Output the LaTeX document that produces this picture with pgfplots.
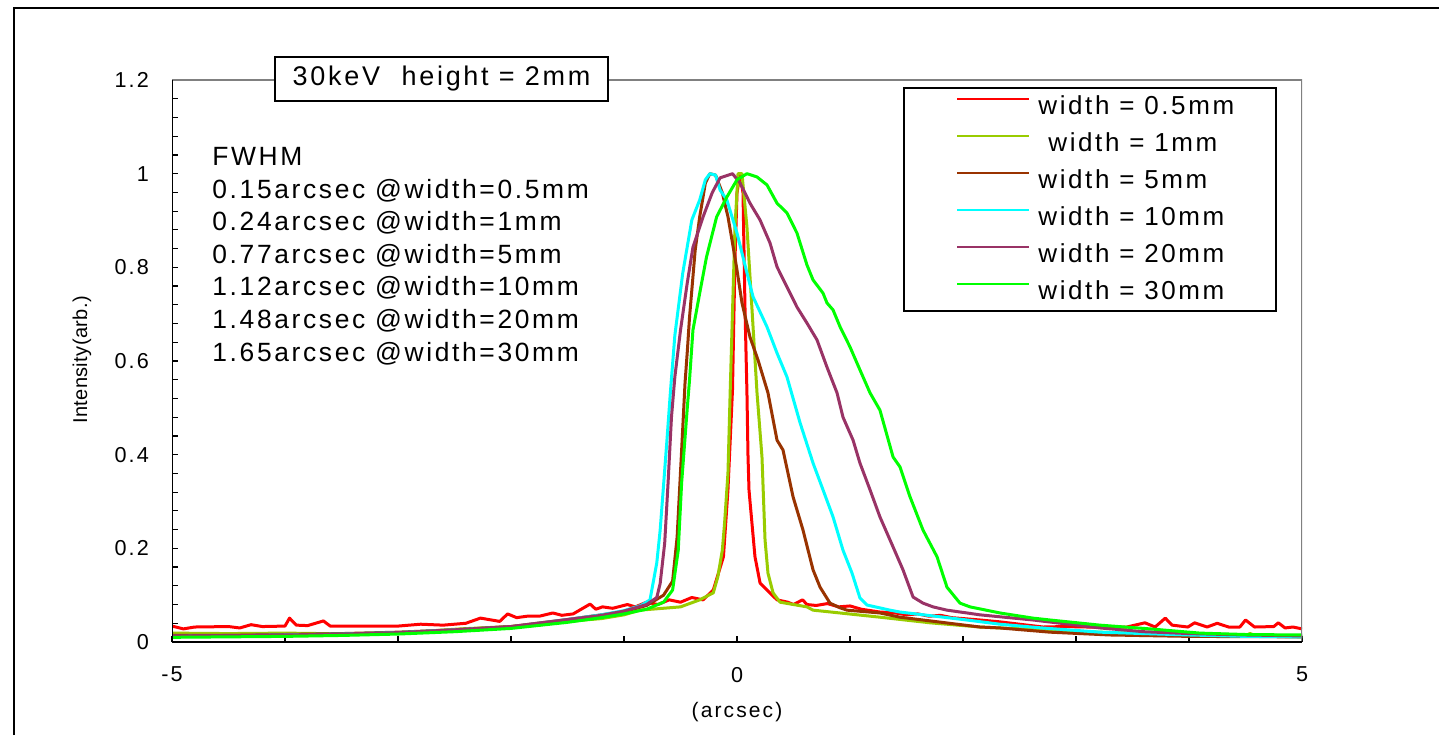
\documentclass[border=0pt]{standalone}
\usepackage{fontspec}
\setmainfont{Liberation Sans}[LetterSpace=10]
\usepackage{pgfplots}
\pgfplotsset{compat=1.18}
\definecolor{cRed}{HTML}{FF0000}
\definecolor{cYG}{HTML}{99CC00}
\definecolor{cBrown}{HTML}{993300}
\definecolor{cCyan}{HTML}{00FFFF}
\definecolor{cPurple}{HTML}{993366}
\definecolor{cGreen}{HTML}{00FF00}
\definecolor{cGray}{HTML}{808080}
\begin{document}
\begin{tikzpicture}
\useasboundingbox (0,0) rectangle (719.5pt,367.5pt);
\fill[white] (0,0) rectangle (719.5pt,367.5pt);
\draw[line width=1pt] (7pt,0pt) -- (7pt,363.5pt) -- (719.5pt,363.5pt);
\begin{axis}[
  at={(86pt,46.5pt)}, anchor=south west,
  scale only axis, width=565pt, height=281pt,
  xmin=-5, xmax=5, ymin=0, ymax=1.2,
  axis line style={draw=none},
  tick pos=left, tick align=inside,
  xtick={-5,-4,-3,-2,-1,0,1,2,3,4,5},
  xticklabels={-5,,,,,0,,,,,5},
  ytick={0,0.2,0.4,0.6,0.8,1,1.2},
  yticklabels={0,0.2,0.4,0.6,0.8,1,1.2},
  minor y tick num=4,
  major tick length=3pt, minor tick length=3pt,
  every tick/.style={black, line width=0.6pt},
  ticklabel style={font=\fontsize{10.8}{12}\selectfont},
  /pgf/number format/assume math mode=true,
  xticklabel style={yshift=-9pt},
  yticklabel style={xshift=-8pt},
  legend style={at={(rel axis cs:0.647,0.9875)}, anchor=north west,
    draw=black, line width=0.8pt, fill=white,
    font=\fontsize{13}{14}\selectfont,
    inner xsep=21pt, inner ysep=4pt, row sep=7.3pt, column sep=4pt,
    nodes={inner sep=0pt, text height=9.2pt, text depth=2pt}},
  legend cell align=left,
  legend image code/.code={\path (0pt,0pt); \draw[line width=1pt] (5pt,3.9pt) -- (41pt,3.9pt);},
]
\addplot[cRed, line width=1.5pt, line join=round] coordinates {
(-5,0.034) (-4.9,0.028) (-4.8,0.032) (-4.5,0.033) (-4.4,0.030) (-4.3,0.037) (-4.2,0.033) (-4.0,0.034) (-3.96,0.051) (-3.9,0.036) (-3.8,0.035) (-3.66,0.045) (-3.6,0.034) (-3.3,0.034) (-3.0,0.034) (-2.8,0.038) (-2.6,0.036) (-2.4,0.040) (-2.27,0.051) (-2.1,0.044) (-2.03,0.060) (-1.95,0.052) (-1.86,0.055) (-1.75,0.055) (-1.63,0.062) (-1.55,0.057) (-1.45,0.060) (-1.30,0.081) (-1.25,0.070) (-1.19,0.075) (-1.1,0.072) (-0.97,0.080) (-0.9,0.075) (-0.8,0.085) (-0.7,0.080) (-0.6,0.090) (-0.5,0.085) (-0.4,0.095) (-0.3,0.090) (-0.21,0.111) (-0.12,0.182) (-0.08,0.325) (-0.04,0.538) (-0.018,0.816) (0,0.959) (0.027,1.0) (0.053,0.959) (0.071,0.709) (0.088,0.532) (0.097,0.40) (0.106,0.325) (0.115,0.30) (0.159,0.182) (0.204,0.126) (0.265,0.111) (0.354,0.090) (0.45,0.085) (0.5,0.080) (0.58,0.090) (0.62,0.080) (0.7,0.078) (0.8,0.082) (0.9,0.075) (1.0,0.077) (1.1,0.070) (1.265,0.064) (1.4,0.062) (1.5,0.058) (1.6,0.060) (1.7,0.055) (1.8,0.057) (1.9,0.052) (2.0,0.050) (2.15,0.047) (2.327,0.043) (2.5,0.038) (2.708,0.032) (2.9,0.033) (3.1,0.032) (3.45,0.032) (3.61,0.041) (3.7,0.032) (3.79,0.051) (3.85,0.036) (3.99,0.032) (4.05,0.041) (4.16,0.032) (4.25,0.040) (4.35,0.032) (4.45,0.032) (4.5,0.047) (4.58,0.032) (4.75,0.033) (4.79,0.041) (4.85,0.030) (4.92,0.032) (5,0.028)
};
\addlegendentry{width = 0.5mm}
\addplot[cYG, line width=1.5pt, line join=round] coordinates {
(-5,0.019) (-4.5,0.018) (-4,0.019) (-3.34,0.017) (-3,0.019) (-2.45,0.028) (-2,0.033) (-1.63,0.041) (-1.5,0.044) (-1.2,0.050) (-1.0,0.058) (-0.86,0.068) (-0.5,0.075) (-0.33,0.090) (-0.21,0.105) (-0.17,0.139) (-0.13,0.196) (-0.11,0.254) (-0.08,0.361) (-0.06,0.538) (-0.018,0.886) (0.009,1.0) (0.044,1.0) (0.088,0.886) (0.133,0.709) (0.177,0.532) (0.221,0.395) (0.248,0.218) (0.274,0.147) (0.319,0.105) (0.381,0.085) (0.619,0.075) (0.673,0.068) (1.265,0.053) (1.708,0.041) (2.15,0.032) (2.327,0.030) (3.212,0.021) (4.0,0.015) (4.5,0.014) (4.54,0.018) (4.6,0.013) (5,0.011)
};
\addlegendentry{\hspace{5pt}width = 1mm}
\addplot[cBrown, line width=1.5pt, line join=round] coordinates {
(-5,0.014) (-4.5,0.014) (-4,0.016) (-3.5,0.018) (-3,0.021) (-2.5,0.026) (-2,0.033) (-1.5,0.048) (-1.2,0.058) (-1.0,0.065) (-0.8,0.078) (-0.65,0.10) (-0.57,0.13) (-0.53,0.224) (-0.49,0.41) (-0.46,0.553) (-0.44,0.62) (-0.42,0.694) (-0.37,0.837) (-0.33,0.908) (-0.28,0.98) (-0.24,1.0) (-0.19,0.997) (-0.13,0.959) (-0.08,0.908) (-0.04,0.852) (0,0.794) (0.044,0.724) (0.115,0.651) (0.186,0.602) (0.274,0.532) (0.354,0.431) (0.407,0.410) (0.496,0.310) (0.584,0.239) (0.673,0.154) (0.735,0.117) (0.823,0.083) (0.912,0.073) (0.973,0.068) (1.265,0.062) (1.442,0.053) (2.15,0.032) (2.327,0.030) (2.77,0.021) (3.3,0.015) (4,0.012) (5,0.011)
};
\addlegendentry{width = 5mm}
\addplot[cCyan, line width=1.5pt, line join=round] coordinates {
(-5,0.012) (-4.5,0.013) (-4,0.015) (-3.5,0.017) (-3,0.020) (-2.5,0.026) (-2,0.032) (-1.5,0.048) (-1.2,0.058) (-1.0,0.067) (-0.85,0.078) (-0.77,0.090) (-0.71,0.169) (-0.68,0.239) (-0.62,0.431) (-0.59,0.532) (-0.55,0.655) (-0.48,0.788) (-0.40,0.901) (-0.33,0.944) (-0.28,0.987) (-0.24,1.0) (-0.19,0.997) (-0.15,0.965) (-0.09,0.944) (0,0.873) (0.088,0.788) (0.142,0.737) (0.265,0.673) (0.354,0.617) (0.442,0.566) (0.558,0.468) (0.673,0.382) (0.761,0.325) (0.850,0.267) (0.938,0.196) (1.018,0.147) (1.088,0.094) (1.150,0.079) (1.354,0.068) (1.442,0.064) (2.0,0.048) (2.327,0.038) (2.7,0.030) (3.212,0.021) (3.6,0.018) (4.0,0.015) (4.5,0.012) (5,0.011)
};
\addlegendentry{width = 10mm}
\addplot[cPurple, line width=1.5pt, line join=round] coordinates {
(-5,0.013) (-4.5,0.014) (-4,0.015) (-3.5,0.017) (-3,0.020) (-2.5,0.026) (-2,0.033) (-1.5,0.048) (-1.2,0.057) (-1.0,0.066) (-0.8,0.080) (-0.71,0.095) (-0.68,0.125) (-0.64,0.211) (-0.61,0.340) (-0.58,0.480) (-0.55,0.566) (-0.50,0.666) (-0.44,0.767) (-0.39,0.843) (-0.30,0.908) (-0.22,0.959) (-0.15,0.991) (-0.04,1.0) (0.027,0.980) (0.115,0.937) (0.204,0.901) (0.292,0.852) (0.354,0.801) (0.442,0.758) (0.531,0.715) (0.619,0.681) (0.708,0.645) (0.796,0.587) (0.885,0.532) (0.938,0.480) (1.027,0.431) (1.088,0.382) (1.177,0.325) (1.265,0.267) (1.381,0.203) (1.469,0.154) (1.558,0.096) (1.646,0.083) (1.735,0.075) (1.858,0.068) (2.035,0.062) (2.150,0.058) (2.619,0.047) (3.212,0.030) (3.6,0.022) (4.0,0.018) (4.5,0.015) (5,0.013)
};
\addlegendentry{width = 20mm}
\addplot[cGreen, line width=1.5pt, line join=round] coordinates {
(-5,0.010) (-4.5,0.011) (-4,0.012) (-3.5,0.014) (-3,0.017) (-2.5,0.022) (-2,0.029) (-1.5,0.042) (-1.2,0.052) (-1.0,0.060) (-0.8,0.070) (-0.65,0.085) (-0.57,0.111) (-0.52,0.196) (-0.49,0.340) (-0.44,0.50) (-0.42,0.56) (-0.39,0.666) (-0.33,0.745) (-0.27,0.822) (-0.18,0.908) (-0.09,0.950) (0,0.987) (0.088,1.0) (0.177,0.993) (0.265,0.976) (0.354,0.937) (0.442,0.916) (0.531,0.873) (0.619,0.805) (0.673,0.773) (0.761,0.745) (0.796,0.724) (0.850,0.709) (0.912,0.673) (1.0,0.630) (1.088,0.581) (1.177,0.532) (1.265,0.495) (1.381,0.395) (1.442,0.374) (1.531,0.310) (1.646,0.239) (1.770,0.182) (1.858,0.117) (1.973,0.083) (2.062,0.075) (2.327,0.062) (2.619,0.051) (2.77,0.047) (3.212,0.036) (3.655,0.028) (4.097,0.019) (4.5,0.016) (5,0.015)
};
\addlegendentry{width = 30mm}
\draw[line width=1pt, cGray] (rel axis cs:0,1) -- (rel axis cs:1,1) -- (rel axis cs:1,0);
\draw[line width=1pt, black] (rel axis cs:0,1) -- (rel axis cs:0,0) -- (rel axis cs:1,0);
\end{axis}
\node[draw=black, line width=0.8pt, fill=white, minimum width=166.5pt, minimum height=22pt, inner sep=0pt, font=\fontsize{13.5}{14}\selectfont] at (220.75pt,328pt) {30keV\hspace{0.8em}height = 2mm};
\node[anchor=north west, align=left, inner sep=0pt, font=\fontsize{13.2}{16.3}\selectfont] at (106pt,294pt) {FWHM\\0.15arcsec @width=0.5mm\\0.24arcsec @width=1mm\\0.77arcsec @width=5mm\\1.12arcsec @width=10mm\\1.48arcsec @width=20mm\\1.65arcsec @width=30mm};
\node[font=\fontsize{10.5}{12}\selectfont] at (368.5pt,11.5pt) {(arcsec)};
\node[rotate=90, font=\fontsize{10}{11}\selectfont\addfontfeature{LetterSpace=2}] at (41pt,187.5pt) {Intensity(arb.)};
\end{tikzpicture}
\end{document}
